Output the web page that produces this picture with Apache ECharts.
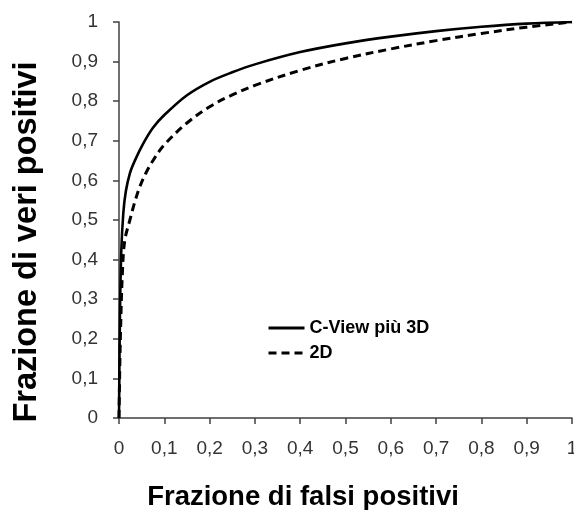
<!DOCTYPE html>
<html>
<head>
<meta charset="utf-8">
<script src="https://cdn.jsdelivr.net/npm/echarts@6/dist/echarts.min.js"></script>
<style>
html,body{margin:0;padding:0;background:#fff;}
#chart{width:574px;height:510px;}
</style>
</head>
<body>
<div id="chart"></div>
<script>
var xTitle = 'Frazione di falsi positivi';
var yTitle = 'Frazione di veri positivi';
var seriesNames = ['C-View più 3D', '2D'];
var cviewData = [[0,0],[0.002,0.25],[0.005,0.42],[0.0095,0.517],[0.015,0.572],[0.024,0.618],[0.035,0.65],[0.054,0.694],[0.075,0.733],[0.1,0.765],[0.15,0.815],[0.2,0.849],[0.25,0.873],[0.3,0.893],[0.4,0.924],[0.5,0.946],[0.6,0.963],[0.7,0.977],[0.8,0.988],[0.9,0.996],[1,1]];
var d2Data = [[0,0],[0.003,0.2],[0.008,0.38],[0.013,0.45],[0.024,0.5],[0.035,0.546],[0.046,0.584],[0.06,0.62],[0.076,0.652],[0.1,0.69],[0.15,0.745],[0.2,0.786],[0.25,0.816],[0.3,0.84],[0.4,0.878],[0.5,0.908],[0.6,0.932],[0.7,0.953],[0.8,0.971],[0.9,0.987],[1,1]];

var font = 'Arial, "Liberation Sans", sans-serif';
function fmt(v){ return String(Math.round(v*10)/10).replace('.', ','); }

var chart = echarts.init(document.getElementById('chart'));
chart.setOption({
  animation: false,
  backgroundColor: '#fff',
  grid: {left: 119, right: 2, top: 22, bottom: 92, outerBoundsMode: 'none', containLabel: false},
  xAxis: {
    type: 'value', min: 0, max: 1, interval: 0.1,
    axisLine: {show: true, lineStyle: {color: '#404040', width: 1.5}},
    axisTick: {show: true, length: 6, lineStyle: {color: '#404040', width: 1.5}},
    axisLabel: {formatter: fmt, fontFamily: font, fontSize: 19, color: '#333', margin: 21},
    splitLine: {show: false}
  },
  yAxis: {
    type: 'value', min: 0, max: 1, interval: 0.1,
    axisLine: {show: true, lineStyle: {color: '#404040', width: 1.5}},
    axisTick: {show: true, length: 6, lineStyle: {color: '#404040', width: 1.5}},
    axisLabel: {formatter: fmt, fontFamily: font, fontSize: 19, color: '#333', margin: 21},
    splitLine: {show: false}
  },
  legend: {
    orient: 'vertical', left: 262, top: 314,
    itemWidth: 36, itemHeight: 14, itemGap: 7,
    itemStyle: {color: 'rgba(0,0,0,0)', borderWidth: 0},
    lineStyle: {width: 3},
    textStyle: {fontFamily: font, fontSize: 18, fontWeight: 'bold', color: '#000'},
    data: seriesNames
  },
  graphic: [
    {type: 'text', x: 303, y: 497, style: {text: xTitle, font: 'bold 27.5px ' + font, fill: '#000', align: 'center', verticalAlign: 'middle'}},
    {type: 'text', x: 27, y: 242, rotation: Math.PI / 2, style: {text: yTitle, font: 'bold 32.5px ' + font, fill: '#000', align: 'center', verticalAlign: 'middle'}}
  ],
  series: [
    {name: seriesNames[0], type: 'line', data: cviewData, smooth: 0.35, symbol: 'none',
     lineStyle: {color: '#000', width: 2.6, type: 'solid'}, itemStyle: {color: '#000'}},
    {name: seriesNames[1], type: 'line', data: d2Data, smooth: 0.35, symbol: 'none',
     lineStyle: {color: '#000', width: 3, type: [8, 5]}, itemStyle: {color: '#000'}}
  ]
});
</script>
</body>
</html>
